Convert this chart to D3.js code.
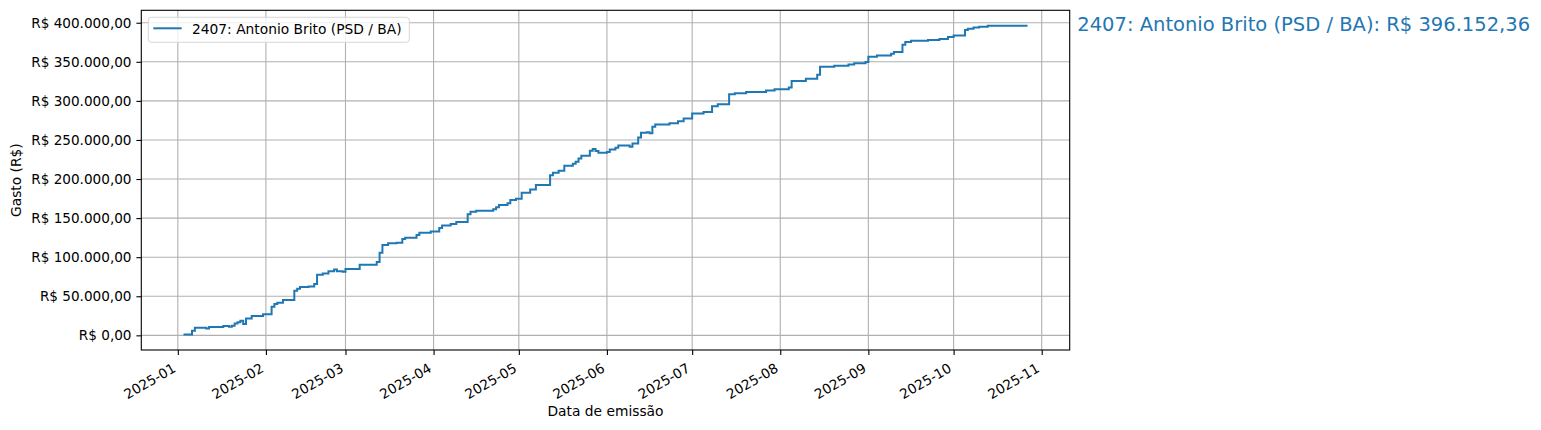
<!DOCTYPE html>
<html>
<head>
<meta charset="utf-8">
<script src="https://cdn.jsdelivr.net/npm/d3@7"></script>
<style>
  body { margin: 0; background: #fff; }
  svg { display: block; font-family: "DejaVu Sans", sans-serif; }
</style>
</head>
<body>
<div id="chart"></div>
<script>
// cumulative spending, one entry per emission date
const datas = [
  "2025-01-03", "2025-01-06", "2025-01-07", "2025-01-11", "2025-01-12", "2025-01-17",
  "2025-01-19", "2025-01-20", "2025-01-21", "2025-01-22", "2025-01-23", "2025-01-24",
  "2025-01-25", "2025-01-27", "2025-01-31", "2025-02-03", "2025-02-04", "2025-02-05",
  "2025-02-07", "2025-02-11", "2025-02-12", "2025-02-13", "2025-02-16", "2025-02-18",
  "2025-02-19", "2025-02-21", "2025-02-23", "2025-02-25", "2025-02-26", "2025-02-28",
  "2025-03-01", "2025-03-06", "2025-03-12", "2025-03-13", "2025-03-14", "2025-03-16",
  "2025-03-19", "2025-03-21", "2025-03-22", "2025-03-26", "2025-03-27", "2025-03-31",
  "2025-04-03", "2025-04-04", "2025-04-07", "2025-04-09", "2025-04-13", "2025-04-14",
  "2025-04-16", "2025-04-22", "2025-04-23", "2025-04-24", "2025-04-27", "2025-04-28",
  "2025-04-30", "2025-05-02", "2025-05-05", "2025-05-07", "2025-05-12", "2025-05-13",
  "2025-05-15", "2025-05-17", "2025-05-20", "2025-05-21", "2025-05-22", "2025-05-23",
  "2025-05-26", "2025-05-27", "2025-05-28", "2025-05-29", "2025-06-01", "2025-06-02",
  "2025-06-04", "2025-06-05", "2025-06-09", "2025-06-10", "2025-06-12", "2025-06-13",
  "2025-06-15", "2025-06-16", "2025-06-17", "2025-06-18", "2025-06-23", "2025-06-26",
  "2025-06-28", "2025-07-01", "2025-07-05", "2025-07-08", "2025-07-10", "2025-07-14",
  "2025-07-16", "2025-07-20", "2025-07-27", "2025-07-30", "2025-08-04", "2025-08-05",
  "2025-08-10", "2025-08-14", "2025-08-15", "2025-08-20", "2025-08-25", "2025-08-27",
  "2025-08-31", "2025-09-01", "2025-09-04", "2025-09-09", "2025-09-10", "2025-09-13",
  "2025-09-14", "2025-09-16", "2025-09-22", "2025-09-26", "2025-09-29", "2025-10-01",
  "2025-10-05", "2025-10-06", "2025-10-08", "2025-10-10", "2025-10-13", "2025-10-27"
];
const gastos = [
  1000, 5900, 9700, 8800, 10800, 12000,
  11000, 12200, 15300, 16600, 18700, 14500,
  21700, 24700, 26900, 36600, 40000, 41700,
  45100, 57000, 59600, 61800, 62600, 65600,
  77500, 79200, 81900, 84400, 82000, 81300,
  84800, 90300, 93700, 105600, 115500, 117700,
  118500, 123200, 124800, 128300, 131200, 133000,
  137200, 140700, 142400, 144900, 155000, 158200,
  159500, 161300, 163800, 166700, 168900, 173100,
  174800, 182500, 186700, 192300, 205000, 208000,
  210600, 217000, 219600, 222000, 226400, 229700,
  236100, 238300, 236000, 233500, 234500, 237900,
  240000, 243000, 241200, 245600, 253200, 259100,
  260000, 258500, 266800, 269800, 271500, 274100,
  277500, 284000, 285800, 293200, 295800, 308400,
  309800, 311400, 313200, 315000, 317200, 325600,
  328200, 333300, 343600, 344900, 346700, 348000,
  349600, 356400, 358200, 360300, 362500, 371800,
  375300, 376900, 377800, 379100, 381600, 383800,
  390600, 392300, 393800, 394800, 396152.36, 396152.36
];
const deputado = "2407: Antonio Brito (PSD / BA)";
const yTicks = [0, 50000, 100000, 150000, 200000, 250000, 300000, 350000, 400000];
const xTicks = ["2025-01", "2025-02", "2025-03", "2025-04", "2025-05", "2025-06",
  "2025-07", "2025-08", "2025-09", "2025-10", "2025-11"];

const W = 1541, H = 430;
const margin = { top: 10.3, right: 471.3, bottom: 80, left: 141.3 };
const plotW = W - margin.left - margin.right,
  plotH = H - margin.top - margin.bottom;
const cor = "#1f77b4";

const br = d3.formatLocale({ decimal: ",", thousands: ".", grouping: [3], currency: ["R$ ", ""] });
const fmtReal = br.format("$,.2f");
const parseDia = d3.timeParse("%Y-%m-%d");
const parseMes = d3.timeParse("%Y-%m");

const pontos = datas.map((d, i) => ({ data: parseDia(datas[i]), valor: gastos[i] }));

// matplotlib style 5% padding around the data
const [x0, x1] = d3.extent(pontos, d => d.data);
const padX = (x1 - x0) * 0.05;
const [y0, y1] = d3.extent(gastos);
const padY = (y1 - y0) * 0.05;

const x = d3.scaleTime()
  .domain([new Date(+x0 - padX), new Date(+x1 + padX)])
  .range([margin.left, margin.left + plotW]);
const y = d3.scaleLinear()
  .domain([y0 - padY, y1 + padY])
  .range([margin.top + plotH, margin.top]);

const svg = d3.select("#chart").append("svg")
  .attr("width", W)
  .attr("height", H);

// grid
const grid = svg.append("g");
grid.selectAll(".gx").data(xTicks).enter().append("line")
  .attr("x1", d => x(parseMes(d))).attr("x2", d => x(parseMes(d)))
  .attr("y1", margin.top).attr("y2", margin.top + plotH)
  .attr("stroke", "#b0b0b0").attr("stroke-width", 1.1);
grid.selectAll(".gy").data(yTicks).enter().append("line")
  .attr("x1", margin.left).attr("x2", margin.left + plotW)
  .attr("y1", d => y(d)).attr("y2", d => y(d))
  .attr("stroke", "#b0b0b0").attr("stroke-width", 1.1);

// step line (steps-post)
const linha = d3.line()
  .x(d => x(d.data))
  .y(d => y(d.valor))
  .curve(d3.curveStepAfter);

svg.append("path")
  .datum(pontos)
  .attr("fill", "none")
  .attr("stroke", cor)
  .attr("stroke-width", 2)
  .attr("d", linha);

// axes
const xAxis = svg.append("g")
  .attr("transform", `translate(0, ${margin.top + plotH})`)
  .call(d3.axisBottom(x)
    .tickValues(xTicks.map(parseMes))
    .tickFormat(d3.timeFormat("%Y-%m"))
    .tickSizeInner(4.9).tickSizeOuter(0).tickPadding(4.9));
xAxis.select(".domain").remove();
xAxis.selectAll("line").attr("stroke", "#000").attr("stroke-width", 1.1);
xAxis.selectAll("text")
  .attr("font-size", "13.6px")
  .attr("font-family", "DejaVu Sans")
  .attr("fill", "#000")
  .style("text-anchor", "end")
  .attr("y", 0).attr("dy", 0)
  .attr("transform", "translate(-1.6, 21) rotate(-30)");

const yAxis = svg.append("g")
  .attr("transform", `translate(${margin.left}, 0)`)
  .call(d3.axisLeft(y)
    .tickValues(yTicks)
    .tickFormat(fmtReal)
    .tickSizeInner(4.9).tickSizeOuter(0).tickPadding(4.9));
yAxis.select(".domain").remove();
yAxis.selectAll("line").attr("stroke", "#000").attr("stroke-width", 1.1);
yAxis.selectAll("text")
  .attr("font-size", "13.6px")
  .attr("font-family", "DejaVu Sans")
  .attr("fill", "#000");

// frame
svg.append("rect")
  .attr("x", margin.left).attr("y", margin.top)
  .attr("width", plotW).attr("height", plotH)
  .attr("fill", "none").attr("stroke", "#000").attr("stroke-width", 1.1);

// axis labels
svg.append("text")
  .attr("x", margin.left + plotW / 2)
  .attr("y", 416)
  .attr("text-anchor", "middle")
  .attr("font-size", "13.8px")
  .text("Data de emissão");

svg.append("text")
  .attr("transform", `translate(20.5, ${margin.top + plotH / 2}) rotate(-90)`)
  .attr("text-anchor", "middle")
  .attr("font-size", "13.8px")
  .text("Gasto (R$)");

// legend
const leg = svg.append("g");
leg.append("rect")
  .attr("x", 148.3).attr("y", 17.3)
  .attr("width", 261).attr("height", 25)
  .attr("rx", 3)
  .attr("fill", "#fff").attr("fill-opacity", 0.8)
  .attr("stroke", "#d6d6d6");
leg.append("line")
  .attr("x1", 153.3).attr("x2", 181.7)
  .attr("y1", 28.3).attr("y2", 28.3)
  .attr("stroke", cor).attr("stroke-width", 2);
leg.append("text")
  .attr("x", 192).attr("y", 33.8)
  .attr("font-size", "13.8px")
  .text(deputado);

// total annotation right of the plot
svg.append("text")
  .attr("x", 1077.3)
  .attr("y", 30.5)
  .attr("font-size", "19.5px")
  .attr("fill", cor)
  .text(`${deputado}: ${fmtReal(gastos[gastos.length - 1])}`);
</script>
</body>
</html>
